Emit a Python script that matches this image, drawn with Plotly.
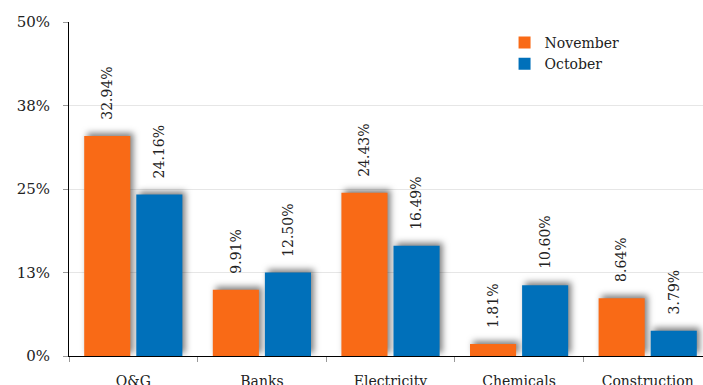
import plotly.graph_objects as go

categories = ["O&G", "Banks", "Electricity", "Chemicals", "Construction"]
november = [32.94, 9.91, 24.43, 1.81, 8.64]
october = [24.16, 12.50, 16.49, 10.60, 3.79]
tick_vals = [0, 12.5, 25, 37.5, 50]
tick_text = ["0%", "13%", "25%", "38%", "50%"]

ORANGE = "#F96A16"
BLUE = "#0070BA"
FONT = "DejaVu Serif"

fig = go.Figure()
fig.add_trace(go.Bar(name="November", x=categories, y=november, marker_color=ORANGE,
                     marker_line_width=0))
fig.add_trace(go.Bar(name="October", x=categories, y=october, marker_color=BLUE,
                     marker_line_width=0))

annotations = []
for cat, n, o in zip(categories, november, october):
    for val, dx in ((n, -26), (o, 26)):
        annotations.append(dict(x=cat, y=val, text=f"{val:.2f}%", textangle=-90,
                                showarrow=False, xanchor="center", yanchor="bottom",
                                xshift=dx, yshift=14,
                                font=dict(family=FONT, size=14, color="#222")))

fig.update_layout(
    width=703, height=385,
    margin=dict(l=69, r=0, t=22, b=29),
    paper_bgcolor="white", plot_bgcolor="white",
    barmode="group", bargap=0.19, bargroupgap=0.115,
    font=dict(family=FONT, size=14, color="#222"),
    legend=dict(x=0.687, y=0.985, xanchor="left", yanchor="top",
                bgcolor="rgba(0,0,0,0)", font=dict(family=FONT, size=14, color="#222"),
                itemwidth=30, tracegroupgap=0),
    annotations=annotations,
    xaxis=dict(range=[-0.5, 4.43], showgrid=False, showline=True, linecolor="black",
               linewidth=1, ticks="outside", tickson="boundaries", ticklen=5,
               tickcolor="#999", ticklabelstandoff=12, automargin=False,
               tickfont=dict(family=FONT, size=14, color="#222")),
    yaxis=dict(range=[0, 50], tickvals=tick_vals, ticktext=tick_text,
               showgrid=True, gridcolor="#E6E6E6", gridwidth=1,
               showline=True, linecolor="black", linewidth=1, automargin=False,
               ticks="outside", ticklen=5, tickcolor="#999", ticklabelstandoff=10,
               tickfont=dict(family=FONT, size=15, color="#222"), zeroline=False),
)

post = """
var s = document.createElement('style');
s.innerHTML = '.bars .point path {filter: drop-shadow(3px -3px 3px rgba(0,0,0,0.5));}';
document.head.appendChild(s);
"""
fig.write_html("out.html", post_script=post)
